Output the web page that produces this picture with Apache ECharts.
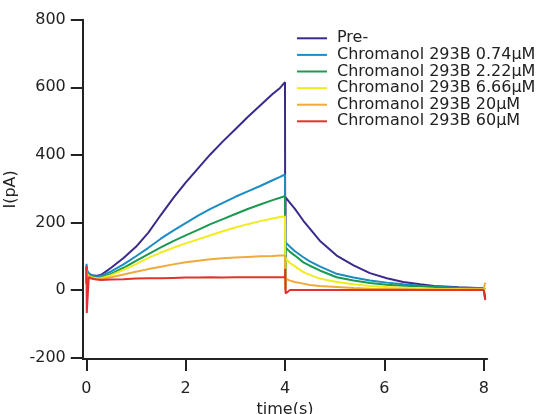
<!DOCTYPE html>
<html>
<head>
<meta charset="utf-8">
<script src="https://cdn.jsdelivr.net/npm/echarts@6/dist/echarts.min.js"></script>
<style>
html,body{margin:0;padding:0;background:#fff;}
#chart{width:551px;height:414px;}
</style>
</head>
<body>
<div id="chart"></div>
<script>
// time points (s)
var timeS = [0, 0.005, 0.01, 0.05, 0.1, 0.2, 0.3, 0.5, 0.75, 1, 1.25, 1.5, 1.75, 2, 2.25, 2.5, 2.75, 3, 3.25, 3.5, 3.75, 3.9, 4, 4.005, 4.012, 4.1, 4.2, 4.37, 4.5, 4.7, 5.04, 5.38, 5.71, 6.05, 6.38, 6.72, 7, 7.5, 8, 8.03];
// currents (pA)
var pre  = [20, 70, 55, 48, 44, 42, 45, 66, 95, 128, 170, 222, 272, 318, 360, 402, 440, 476, 512, 546, 580, 598, 615, 0, 274, 258, 240, 205, 182, 146, 102, 73, 50, 35, 24, 17, 12, 8, 5, -25];
var c074 = [20, 78, 60, 50, 45, 40, 42, 55, 76, 100, 125, 152, 176, 198, 220, 240, 258, 276, 292, 308, 325, 335, 342, 0, 141, 128, 115, 97, 85, 70, 48, 37, 28, 22, 17, 13, 10, 7, 5, 3];
var c222 = [20, 65, 55, 45, 40, 36, 37, 48, 66, 86, 106, 126, 145, 162, 178, 195, 210, 225, 240, 253, 266, 273, 278, 0, 126, 113, 102, 82, 72, 58, 38, 28, 21, 16, 13, 11, 8, 5, 3, 2];
var c666 = [20, 60, 50, 42, 38, 35, 35, 44, 60, 77, 95, 111, 125, 138, 150, 162, 174, 185, 195, 204, 212, 216, 218, 0, 95, 80, 70, 53, 45, 34, 24, 17, 12, 9, 7, 5, 4, 3, 2, 2];
var c20  = [20, 55, 45, 40, 36, 33, 33, 38, 46, 54, 62, 69, 76, 82, 87, 91, 94, 96, 98, 100, 101, 102, 102, 0, 34, 28, 24, 19, 15, 12, 9, 6, 4, 3, 3, 2, 2, 2, 3, 22];
var c60  = [20, 72, -68, 38, 34, 31, 30, 31, 32, 34, 35, 35, 36, 37, 37, 38, 37, 38, 38, 38, 38, 38, 38, 63, -10, 0, 0, 0, 0, 0, 0, 0, 0, 0, 0, 0, 0, 0, 0, -30];

var seriesNames = ['Pre-', 'Chromanol 293B 0.74μM', 'Chromanol 293B 2.22μM', 'Chromanol 293B 6.66μM', 'Chromanol 293B 20μM', 'Chromanol 293B 60μM'];
var seriesValues = [pre, c074, c222, c666, c20, c60];
var seriesColors = ['#3b2a8c', '#1c8cc4', '#1a9a50', '#f0ec1e', '#eeab38', '#e0332d'];

var xTicks = [0, 2, 4, 6, 8];
var yTicks = [-200, 0, 200, 400, 600, 800];

var FONT = 'DejaVu Sans';
var chart = echarts.init(document.getElementById('chart'));

var series = seriesNames.map(function (name, i) {
  return {
    name: name,
    type: 'line',
    data: timeS.map(function (t, k) { return [t, seriesValues[i][k]]; }),
    showSymbol: false,
    symbol: 'none',
    lineStyle: { color: seriesColors[i], width: 2 },
    itemStyle: { color: seriesColors[i] },
    z: 2 + i
  };
});

chart.setOption({
  animation: false,
  backgroundColor: '#ffffff',
  grid: { left: 82.8, right: 63.8, top: 19.7, bottom: 55, containLabel: false, outerBoundsMode: 'none' },
  legend: {
    orient: 'vertical',
    left: 292,
    top: 25,
    itemWidth: 30,
    itemHeight: 2,
    itemGap: 0,
    icon: 'rect',
    textStyle: { fontFamily: FONT, fontSize: 16, color: '#222', lineHeight: 16.6, padding: [0, 0, 0, 5] },
    data: seriesNames
  },
  xAxis: {
    type: 'value',
    min: -0.07,
    max: 8.07,
    name: 'time(s)',
    nameLocation: 'middle',
    nameGap: 35,
    nameTextStyle: { fontFamily: FONT, fontSize: 16, color: '#222' },
    axisLine: { show: true, onZero: false, lineStyle: { color: '#222', width: 2 } },
    axisTick: { show: true, customValues: xTicks, length: 12, lineStyle: { color: '#222', width: 2 } },
    axisLabel: { customValues: xTicks, margin: 22, fontFamily: FONT, fontSize: 16, color: '#222' },
    splitLine: { show: false }
  },
  yAxis: {
    type: 'value',
    min: -204,
    max: 800,
    name: 'I(pA)',
    nameLocation: 'middle',
    nameGap: 58,
    nameTextStyle: { fontFamily: FONT, fontSize: 16, color: '#222' },
    axisLine: { show: true, onZero: false, lineStyle: { color: '#222', width: 2 } },
    axisTick: { show: true, customValues: yTicks, length: 12, lineStyle: { color: '#222', width: 2 } },
    axisLabel: { customValues: yTicks, margin: 17, fontFamily: FONT, fontSize: 16, color: '#222' },
    splitLine: { show: false }
  },
  series: series
});
</script>
</body>
</html>
